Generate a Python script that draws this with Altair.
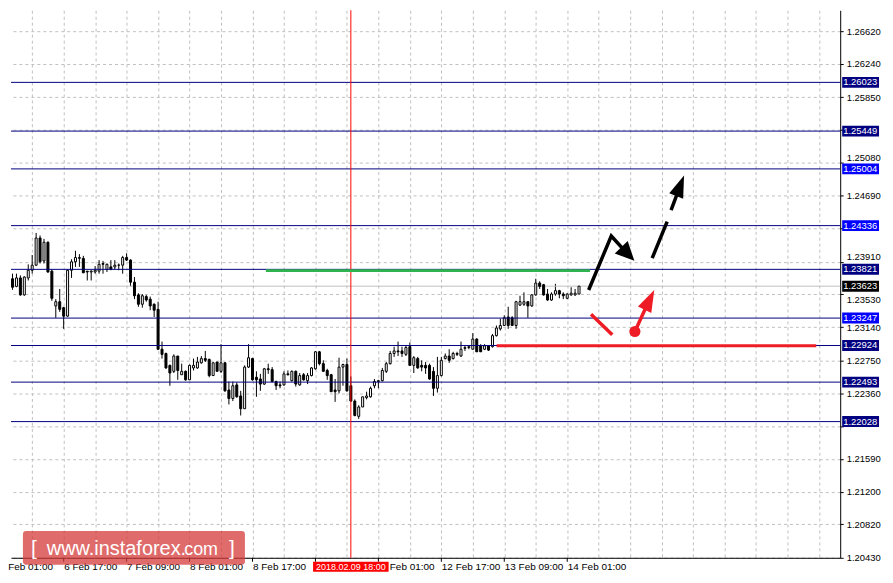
import altair as alt
import pandas as pd

W, H = 833, 550
PX_PER_UNIT = 8530
TOP_PRICE = 1.26872
FONT = "Liberation Sans"

# ---------------- data ----------------
bars = list(range(146))
opens = [1.2388,1.2371,1.2362,1.2372,1.2352,1.2372,1.2381,1.2387,1.2419,1.2392,
         1.2414,1.2380,1.2339,1.2344,1.2337,1.2327,1.2381,1.2391,1.2395,1.2395,
         1.2380,1.2379,1.2379,1.2380,1.2388,1.2382,1.2385,1.2385,1.2387,1.2387,
         1.2396,1.2393,1.2367,1.2352,1.2341,1.2350,1.2347,1.2341,1.2335,1.2288,
         1.2283,1.2269,1.2262,1.2280,1.2258,1.2262,1.2252,1.2266,1.2266,1.2272,
         1.2277,1.2276,1.2257,1.2273,1.2262,1.2272,1.2240,1.2230,1.2246,1.2233,
         1.2218,1.2267,1.2277,1.2255,1.2253,1.2247,1.2265,1.2264,1.2250,1.2246,
         1.2246,1.2259,1.2251,1.2262,1.2246,1.2258,1.2251,1.2257,1.2265,1.2285,
         1.2271,1.2263,1.2258,1.2240,1.2239,1.2267,1.2270,1.2245,1.2227,1.2209,
         1.2220,1.2231,1.2232,1.2245,1.2250,1.2251,1.2262,1.2271,1.2283,1.2286,
         1.2286,1.2282,1.2291,1.2269,1.2277,1.2269,1.2269,1.2269,1.2262,1.2242,
         1.2257,1.2277,1.2280,1.2277,1.2283,1.2280,1.2289,1.2290,1.2288,1.2300,
         1.2292,1.2288,1.2292,1.2291,1.2304,1.2312,1.2316,1.2326,1.2325,1.2316,
         1.2340,1.2341,1.2344,1.2339,1.2352,1.2366,1.2364,1.2353,1.2346,1.2353,
         1.2357,1.2353,1.2348,1.2352,1.2352,1.2353]
highs = [1.2389,1.2377,1.2377,1.2375,1.2374,1.2388,1.2399,1.2425,1.2422,1.2418,
         1.2415,1.2382,1.2347,1.2359,1.2338,1.2382,1.2394,1.2404,1.2400,1.2398,
         1.2380,1.2381,1.2386,1.2393,1.2392,1.2389,1.2393,1.2393,1.2389,1.2398,
         1.2401,1.2394,1.2373,1.2354,1.2353,1.2352,1.2350,1.2342,1.2344,1.2297,
         1.2284,1.2270,1.2282,1.2280,1.2271,1.2263,1.2270,1.2277,1.2279,1.2280,
         1.2286,1.2277,1.2273,1.2273,1.2294,1.2273,1.2250,1.2250,1.2249,1.2239,
         1.2269,1.2294,1.2278,1.2262,1.2259,1.2266,1.2271,1.2267,1.2251,1.2250,
         1.2262,1.2263,1.2263,1.2263,1.2260,1.2260,1.2260,1.2267,1.2286,1.2286,
         1.2275,1.2265,1.2259,1.2253,1.2278,1.2271,1.2277,1.2256,1.2229,1.2222,
         1.2232,1.2238,1.2244,1.2253,1.2252,1.2266,1.2273,1.2286,1.2291,1.2297,
         1.2291,1.2292,1.2296,1.2280,1.2279,1.2275,1.2273,1.2271,1.2267,1.2279,
         1.2279,1.2283,1.2288,1.2285,1.2285,1.2297,1.2293,1.2293,1.2307,1.2301,
         1.2294,1.2294,1.2293,1.2306,1.2316,1.2324,1.2328,1.2338,1.2327,1.2345,
         1.2351,1.2355,1.2344,1.2353,1.2371,1.2368,1.2365,1.2359,1.2355,1.2365,
         1.2358,1.2355,1.2354,1.2361,1.2359,1.2362]
lows = [1.2367,1.2358,1.2361,1.2351,1.2351,1.2369,1.2377,1.2386,1.2389,1.2389,
        1.2378,1.2345,1.2325,1.2332,1.2312,1.2326,1.2372,1.2385,1.2385,1.2378,
        1.2369,1.2369,1.2377,1.2377,1.2377,1.2379,1.2381,1.2382,1.2381,1.2377,
        1.2392,1.2362,1.2347,1.2338,1.2337,1.2344,1.2334,1.2326,1.2287,1.2277,
        1.2265,1.2245,1.2260,1.2252,1.2258,1.2251,1.2252,1.2263,1.2265,1.2271,
        1.2273,1.2255,1.2257,1.2262,1.2260,1.2238,1.2223,1.2227,1.2231,1.2210,
        1.2218,1.2266,1.2251,1.2232,1.2239,1.2246,1.2259,1.2249,1.2240,1.2242,
        1.2245,1.2257,1.2250,1.2244,1.2245,1.2251,1.2247,1.2256,1.2264,1.2269,
        1.2262,1.2252,1.2238,1.2226,1.2236,1.2245,1.2238,1.2226,1.2209,1.2206,
        1.2220,1.2229,1.2231,1.2242,1.2242,1.2250,1.2260,1.2270,1.2279,1.2280,
        1.2279,1.2280,1.2269,1.2260,1.2265,1.2262,1.2259,1.2252,1.2233,1.2237,
        1.2256,1.2276,1.2272,1.2276,1.2280,1.2279,1.2286,1.2288,1.2288,1.2285,
        1.2285,1.2287,1.2286,1.2290,1.2303,1.2310,1.2316,1.2312,1.2316,1.2312,
        1.2339,1.2339,1.2325,1.2338,1.2351,1.2359,1.2351,1.2345,1.2345,1.2351,
        1.2348,1.2347,1.2347,1.2351,1.2351,1.2353]
closes = [1.2369,1.2361,1.2372,1.2352,1.2373,1.2381,1.2387,1.2419,1.2391,1.2414,
          1.2379,1.2348,1.2344,1.2335,1.2327,1.2381,1.2391,1.2396,1.2396,1.2378,
          1.2379,1.2380,1.2381,1.2388,1.2389,1.2388,1.2382,1.2387,1.2387,1.2396,
          1.2393,1.2367,1.2351,1.2341,1.2351,1.2346,1.2339,1.2334,1.2288,1.2282,
          1.2266,1.2260,1.2280,1.2263,1.2262,1.2252,1.2269,1.2269,1.2273,1.2277,
          1.2275,1.2257,1.2272,1.2262,1.2272,1.2239,1.2230,1.2245,1.2232,1.2218,
          1.2267,1.2278,1.2252,1.2252,1.2247,1.2265,1.2264,1.2250,1.2245,1.2245,
          1.2259,1.2258,1.2262,1.2247,1.2257,1.2252,1.2257,1.2266,1.2285,1.2271,
          1.2262,1.2257,1.2238,1.2238,1.2267,1.2270,1.2239,1.2227,1.2210,1.2220,
          1.2232,1.2233,1.2242,1.2250,1.2251,1.2263,1.2271,1.2283,1.2286,1.2285,
          1.2283,1.2290,1.2269,1.2278,1.2266,1.2267,1.2266,1.2253,1.2242,1.2257,
          1.2275,1.2280,1.2275,1.2283,1.2282,1.2288,1.2290,1.2291,1.2300,1.2285,
          1.2285,1.2292,1.2287,1.2304,1.2313,1.2316,1.2325,1.2316,1.2316,1.2344,
          1.2344,1.2344,1.2339,1.2352,1.2366,1.2362,1.2352,1.2346,1.2353,1.2357,
          1.2353,1.2351,1.2353,1.2354,1.2354,1.23623]

y_ticks = [1.26620, 1.26240, 1.25850, 1.25460, 1.25080, 1.24690, 1.24300, 1.23910,
           1.23530, 1.23140, 1.22750, 1.22360, 1.21970, 1.21590, 1.21200, 1.20820, 1.20430]
y_ticks_covered = [1.25460, 1.24300, 1.21970]   # hidden behind the level price boxes
y_ticks_above_box = [1.25080, 1.23910]
y_ticks_below_box = [1.23530]

levels = [1.26023, 1.25449, 1.25004, 1.24336, 1.23821, 1.23247, 1.22924, 1.22493, 1.22028]
level_box_colors = ["#000080", "#000080", "#0000ff", "#0000ff", "#000080",
                    "#0000ff", "#000080", "#000080", "#000080"]
level_line_color = "#000080"
bid_price = 1.23623

x_label_bars = [14, 30, 46, 62, 78, 94, 110, 126, 142]
x_label_texts = ["6 Feb 17:00", "7 Feb 09:00", "8 Feb 01:00", "8 Feb 17:00", "9 Feb 09:00",
                 "12 Feb 01:00", "12 Feb 17:00", "13 Feb 09:00", "14 Feb 01:00"]
x_labels_covered = [78, 94]       # under the cursor time box
partial_labels = ["Feb 01:00", "Feb 01:00"]   # visible rests of cut labels
partial_label_bars = [-0.1, 96.9]
grid_bars = list(range(6, 207, 8))

cursor_bar = 87
cursor_text = "2018.02.09 18:00"
cursor_box_bars = [77.4, 96.6]

# drawn analysis objects (bar index, price)
hz_start = [65.4, 124.05]
hz_end = [147.8, 205.3]
hz_price = [1.23806, 1.22921]
hz_color = ["#2fb44f", "#ee1c25"]

path_seg = ["b1", "b1", "b1", "b2", "b2", "b3", "b3", "r1", "r1", "r2", "r2"]
path_bar = [147.45, 153.2, 157.4, 163.6, 167.4, 168.4, 170.7, 148.05, 153.45, 159.2, 162.9]
path_price = [1.23578, 1.24214, 1.24001, 1.23953, 1.24383, 1.24519, 1.24805,
              1.23293, 1.23050, 1.23089, 1.23462]
path_color = ["black"] * 7 + ["#ee1c25"] * 4

head_bar = [157.4, 170.7, 162.9]
head_price = [1.24001, 1.24805, 1.23462]
head_angle = [136, 21, 26]
head_size = [361, 484, 484]
head_shape = ["M0,-1L0.95,1L-0.95,1Z", "M0,-1L0.68,1L-0.68,1Z", "M0,-1L0.68,1L-0.68,1Z"]
head_color = ["black", "black", "#ee1c25"]

dot_bar = [159.2]
dot_price = [1.23089]

# ---------------- chart ----------------
df = pd.DataFrame({"bar": bars, "open": opens, "high": highs, "low": lows, "close": closes})
xs = alt.Scale(domain=[1.875, 1.875 + W / 4], nice=False, zero=False)
ys = alt.Scale(domain=[TOP_PRICE - H / PX_PER_UNIT, TOP_PRICE], nice=False, zero=False)


def match(vals):
    return " || ".join(f"abs(datum.value - {v}) < 0.000001" for v in vals)


lab_expr = "".join(f"datum.value == {b} ? '{t}' : "
                   for b, t in zip(x_label_bars, x_label_texts) if b not in x_labels_covered) + "''"
ylab_expr = "(" + match(y_ticks_covered) + ") ? '' : format(datum.value, '.5f')"
ylab_baseline = {"condition": [{"test": match(y_ticks_above_box), "value": "bottom"},
                               {"test": match(y_ticks_below_box), "value": "top"}],
                 "value": "middle"}

XA = alt.Axis(values=grid_bars, labelExpr=lab_expr, grid=True, gridColor="#c0c0c0",
              gridDash=[3, 3], gridWidth=1, ticks=False, domainColor="black",
              labelColor="black", labelFont=FONT, labelFontSize=10, labelAlign="left",
              labelBaseline="top", labelPadding=4, labelOverlap=False, labelFlush=False,
              title=None)
YA = alt.Axis(orient="right", values=y_ticks, labelExpr=ylab_expr, labelBaseline=ylab_baseline,
              grid=True, gridColor="#c0c0c0", gridDash=[3, 3], tickSize=3, tickColor="black",
              domainColor="black", labelColor="black", labelFont=FONT, labelFontSize=9.5,
              labelPadding=3, labelOverlap=False, labelFlush=False, title=None)


def X(f):
    return alt.X(f, scale=xs, axis=XA)


def Y(f):
    return alt.Y(f, scale=ys, axis=YA)


wicks = alt.Chart(df).mark_rule(color="black", strokeWidth=1, clip=True).encode(
    x=X("bar:Q"), y=Y("low:Q"), y2="high:Q")

bodies = alt.Chart(df).mark_bar(size=2, stroke="black", strokeWidth=1, clip=True).encode(
    x=X("bar:Q"), y=Y("open:Q"), y2="close:Q",
    fill=alt.condition("datum.close >= datum.open", alt.value("white"), alt.value("black")))

xticks = alt.Chart(pd.DataFrame({"bar": x_label_bars})).mark_rule(color="black").encode(
    x=X("bar:Q"), y=alt.value(H), y2=alt.value(H + 4))

lv = pd.DataFrame({"price": levels, "color": level_box_colors,
                   "label": [f"{v:.5f}" for v in levels]})
bid = pd.DataFrame({"price": [bid_price], "color": ["black"], "label": [f"{bid_price:.5f}"]})

bid_line = alt.Chart(bid).mark_rule(color="#c0c0c0", strokeWidth=1).encode(y=Y("price:Q"))
level_lines = alt.Chart(lv).mark_rule(strokeWidth=1, color=level_line_color).encode(
    y=Y("price:Q"))

cursor = alt.Chart(pd.DataFrame({"bar": [cursor_bar]})).mark_rule(
    color="#ff0000", strokeWidth=1).encode(x=X("bar:Q"))

hz = pd.DataFrame({"x1": hz_start, "x2": hz_end, "price": hz_price, "color": hz_color})
hz_lines = alt.Chart(hz).mark_rule(strokeWidth=3).encode(
    x=X("x1:Q"), x2="x2:Q", y=Y("price:Q"), color=alt.Color("color:N", scale=None))

pth = pd.DataFrame({"seg": path_seg, "ord": list(range(len(path_seg))), "bar": path_bar,
                    "price": path_price, "color": path_color})
paths = alt.Chart(pth).mark_line(strokeWidth=3.5, strokeJoin="miter", strokeCap="butt").encode(
    x=X("bar:Q"), y=Y("price:Q"), detail="seg:N", order="ord:Q",
    color=alt.Color("color:N", scale=None))

hd = pd.DataFrame({"bar": head_bar, "price": head_price, "ang": head_angle, "sz": head_size,
                   "shp": head_shape, "color": head_color})
heads = alt.Chart(hd).mark_point(filled=True, opacity=1, strokeWidth=0).encode(
    x=X("bar:Q"), y=Y("price:Q"),
    angle=alt.Angle("ang:Q", scale=None), size=alt.Size("sz:Q", scale=None),
    shape=alt.Shape("shp:N", scale=None), color=alt.Color("color:N", scale=None))

dots = alt.Chart(pd.DataFrame({"bar": dot_bar, "price": dot_price})).mark_point(
    filled=True, opacity=1, color="#ee1c25", size=125, shape="circle").encode(
    x=X("bar:Q"), y=Y("price:Q"))

boxes_df = pd.concat([lv, bid], ignore_index=True)
boxes = alt.Chart(boxes_df).mark_rule(strokeWidth=11, strokeCap="butt").encode(
    x=alt.value(W + 2), x2=alt.value(W + 39),
    y=Y("price:Q"), color=alt.Color("color:N", scale=None))
box_text = alt.Chart(boxes_df).mark_text(align="left", baseline="middle", color="white",
                                          font=FONT, fontSize=9.5).encode(
    x=alt.value(W + 3), y=Y("price:Q"), text="label:N")

cb = pd.DataFrame({"x1": [cursor_box_bars[0]], "x2": [cursor_box_bars[1]],
                   "bar": [cursor_bar], "label": [cursor_text]})
cursor_box = alt.Chart(cb).mark_rule(strokeWidth=10, color="#ff0000", strokeCap="butt").encode(
    x=X("x1:Q"), x2="x2:Q", y=alt.value(H + 9))
cursor_lab = alt.Chart(cb).mark_text(color="white", font=FONT, fontSize=9,
                                     baseline="middle").encode(
    x=X("bar:Q"), y=alt.value(H + 9), text="label:N")

part_lab = alt.Chart(pd.DataFrame({"t": partial_labels, "bar": partial_label_bars})).mark_text(
    align="left", baseline="top", font=FONT, fontSize=10, color="black").encode(
    x=alt.X("bar:Q", scale=xs, axis=XA), y=alt.value(H + 4), text="t:N")

wm = pd.DataFrame({"t": [0]})
wm_rect = alt.Chart(wm).mark_rect(color="#d63a3a", opacity=0.75, cornerRadius=3).encode(
    x=alt.value(12), x2=alt.value(235), y=alt.value(523), y2=alt.value(557))
wm_parts = pd.DataFrame({"t": ["[", "www.instaforex.", "com", "]"],
                         "px": [20, 36, 174, 219], "fs": [21, 20, 18, 21]})
wm_text = alt.Chart(wm_parts).mark_text(align="left", baseline="alphabetic", color="white",
                                         font="Liberation Sans").encode(
    x=alt.X("px:Q", scale=None), y=alt.value(547), text="t:N",
    size=alt.Size("fs:Q", scale=None))

chart = alt.layer(
    wicks, bid_line, bodies, level_lines, cursor, xticks, hz_lines, paths, heads, dots,
    boxes, box_text, cursor_box, cursor_lab, part_lab, wm_rect, wm_text
).properties(width=W, height=H, padding=0, background="white").configure_view(stroke=None)

chart.save("out.html", embed_options={"renderer": "svg", "actions": False})
